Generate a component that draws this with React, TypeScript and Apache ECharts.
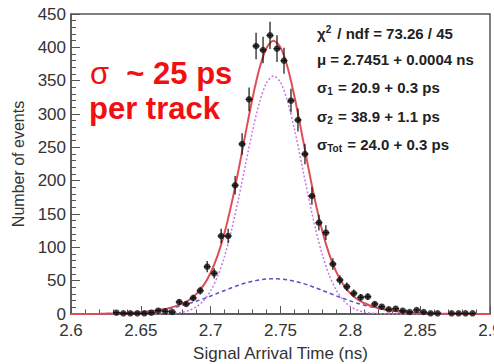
import React, { useEffect, useRef } from "react";
import * as echarts from "echarts";

// Histogram bins (ns) and counts
const binCenters = [
  2.6325, 2.6375, 2.6425, 2.6475, 2.6525, 2.6575, 2.6625, 2.6675, 2.6725, 2.6775,
  2.6825, 2.6875, 2.6925, 2.6975, 2.7025, 2.7075, 2.7125, 2.7175, 2.7225, 2.7275,
  2.7325, 2.7375, 2.7425, 2.7475, 2.7525, 2.7575, 2.7625, 2.7675, 2.7725, 2.7775,
  2.7825, 2.7875, 2.7925, 2.7975, 2.8025, 2.8075, 2.8125, 2.8175, 2.8225, 2.8275,
  2.8325, 2.8375, 2.8425, 2.8475, 2.8525, 2.8575, 2.8625, 2.8725, 2.8775, 2.8825,
  2.8875,
];
const counts = [
  2, 1, 1, 1, 1, 2, 5, 4, 3, 18,
  15, 24, 35, 71, 61, 117, 117, 193, 255, 322,
  402, 396, 418, 398, 380, 320, 291, 240, 177, 137,
  122, 75, 51, 41, 31, 25, 26, 15, 11, 7,
  8, 5, 3, 6, 3, 1, 1, 1, 1, 1,
  1,
];
const countErrors = [
  1.4, 1, 1, 1, 1, 1.4, 2.2, 2, 1.7, 4.2,
  3.9, 4.9, 5.9, 8.4, 7.8, 10.8, 10.8, 13.9, 16, 17.9,
  20, 19.9, 20.4, 20, 19.5, 17.9, 17.1, 15.5, 13.3, 11.7,
  11, 8.7, 7.1, 6.4, 5.6, 5, 5.1, 3.9, 3.3, 2.6,
  2.8, 2.2, 1.7, 2.4, 1.7, 1, 1, 1, 1, 1,
  1,
];
const binHalfWidth = 0.0025;

// Fit curves
const fitX = [
  2.6, 2.62, 2.64, 2.65, 2.66,
  2.665, 2.67, 2.675, 2.68, 2.685, 2.69, 2.695, 2.7, 2.705, 2.71,
  2.715, 2.72, 2.725, 2.73, 2.735, 2.74, 2.745, 2.75, 2.755, 2.76,
  2.765, 2.77, 2.775, 2.78, 2.785, 2.79, 2.795, 2.8, 2.805, 2.81,
  2.815, 2.82, 2.825, 2.83,
  2.84, 2.85, 2.86, 2.88, 2.9,
];
const fitTotal = [
  0, 0.3, 1.4, 2.7, 4.9,
  6.6, 8.8, 11.8, 15.9, 21.8, 30.5, 43.3, 61.9, 87.9, 122.4,
  165.9, 216.6, 271.3, 324.1, 368.9, 399.1, 410, 399.9, 370.5, 326.2,
  273.4, 218.8, 167.7, 123.9, 89, 62.7, 43.9, 30.9, 22.1, 16.1,
  11.9, 8.9, 6.65, 5.0,
  2.7, 1.4, 0.7, 0.1, 0,
];
const fitNarrow = [
  0, 0, 0, 0, 0.1,
  0.2, 0.6, 1.3, 2.8, 5.7, 11.1, 20.2, 34.8, 56.7, 87.1,
  126.6, 173.5, 224.9, 275, 317.7, 346.6, 357, 347.3, 319.2, 276.9,
  226.9, 175.6, 128.3, 88.5, 57.7, 35.5, 20.6, 11.3, 5.9, 2.9,
  1.3, 0.6, 0.25, 0.1,
  0, 0, 0, 0, 0,
];
const fitWide = [
  0, 0.3, 1.4, 2.7, 4.8,
  6.4, 8.2, 10.5, 13.1, 16.1, 19.4, 23.1, 27.1, 31.2, 35.3,
  39.3, 43.1, 46.4, 49.1, 51.2, 52.5, 53, 52.6, 51.3, 49.3,
  46.5, 43.2, 39.4, 35.4, 31.3, 27.2, 23.3, 19.6, 16.2, 13.2,
  10.6, 8.3, 6.4, 4.9,
  2.7, 1.4, 0.7, 0.1, 0,
];

const xTitle = "Signal Arrival Time (ns)";
const yTitle = "Number of events";
const statsLines = [
  "{t|χ}{sup|2}{t| / ndf = 73.26 / 45}",
  "{t|μ = 2.7451 + 0.0004 ns}",
  "{t|σ}{sub|1}{t| = 20.9 + 0.3 ps}",
  "{t|σ}{sub|2}{t| = 38.9 + 1.1 ps}",
  "{t|σ}{sub|Tot}{t| = 24.0 + 0.3 ps}",
];
const annotation1 = "{s|σ}{b|  ~ 25 ps}";
const annotation2 = "per track";

const FONT = "'Liberation Sans', Arial, Helvetica, sans-serif";

export default function App() {
  const ref = useRef<HTMLDivElement>(null);
  useEffect(() => {
    if (!ref.current) return;
    const chart = echarts.init(ref.current, undefined, { renderer: "svg" });
    const pair = (xs: number[], ys: number[]) => xs.map((x, i) => [x, ys[i]]);
    const statsY = [33, 61, 89, 118, 146];
    const option: any = {
      animation: false,
      backgroundColor: "#ffffff",
      grid: {
        left: 71,
        top: 14,
        width: 419,
        height: 300,
        show: true,
        borderColor: "#555",
        borderWidth: 1.5,
        backgroundColor: "transparent",
        containLabel: false,
        outerBoundsMode: "none",
      },
      xAxis: {
        type: "value",
        min: 2.6,
        max: 2.9,
        interval: 0.05,
        name: xTitle,
        nameLocation: "middle",
        nameGap: 31,
        nameTextStyle: { fontFamily: FONT, fontSize: 17, color: "#333" },
        axisLine: { show: true, lineStyle: { color: "#555", width: 1.5 } },
        axisTick: { show: true, inside: true, length: 8, lineStyle: { color: "#555" } },
        minorTick: { show: true, splitNumber: 5, length: 4.5, lineStyle: { color: "#555" } },
        splitLine: { show: false },
        axisLabel: {
          fontFamily: FONT,
          fontSize: 17,
          color: "#333",
          margin: 8,
          showMaxLabel: true,
          alignMaxLabel: "center",
          hideOverlap: false,
          formatter: (v: number) => String(+v.toFixed(2)),
        },
      },
      yAxis: {
        type: "value",
        min: 0,
        max: 450,
        interval: 50,
        name: yTitle,
        nameLocation: "middle",
        nameGap: 32,
        nameRotate: 90,
        nameTextStyle: { fontFamily: FONT, fontSize: 16, color: "#333" },
        axisLine: { show: true, lineStyle: { color: "#555", width: 1.5 } },
        axisTick: { show: true, inside: true, length: 9, lineStyle: { color: "#555" } },
        minorTick: { show: true, splitNumber: 5, length: 5, lineStyle: { color: "#555" } },
        splitLine: { show: false },
        axisLabel: { fontFamily: FONT, fontSize: 17, color: "#333", margin: 5 },
      },
      series: [
        {
          type: "line",
          data: pair(fitX, fitWide),
          showSymbol: false,
          smooth: 0.3,
          lineStyle: { color: "#5b52c8", width: 1.5, type: [4, 3] },
          z: 2,
        },
        {
          type: "line",
          data: pair(fitX, fitNarrow),
          showSymbol: false,
          smooth: 0.3,
          lineStyle: { color: "#c777e6", width: 1.5, type: [2, 2] },
          z: 2,
        },
        {
          type: "line",
          data: pair(fitX, fitTotal),
          showSymbol: false,
          smooth: 0.3,
          lineStyle: { color: "#e04e55", width: 2 },
          z: 3,
        },
        {
          type: "custom",
          data: binCenters.map((x, i) => [x, counts[i], countErrors[i]]),
          encode: { x: 0, y: 1 },
          z: 4,
          renderItem: (params: any, api: any) => {
            const x = api.value(0);
            const y = api.value(1);
            const e = api.value(2);
            const c = api.coord([x, y]);
            const top = api.coord([x, y + e]);
            const bot = api.coord([x, Math.max(0, y - e)]);
            const l = api.coord([x - binHalfWidth, y]);
            const r = api.coord([x + binHalfWidth, y]);
            const st = { stroke: "#111", lineWidth: 1.2 };
            return {
              type: "group",
              children: [
                { type: "line", shape: { x1: c[0], y1: top[1], x2: c[0], y2: bot[1] }, style: st },
                { type: "line", shape: { x1: l[0], y1: c[1], x2: r[0], y2: c[1] }, style: st },
              ],
            };
          },
        },
        {
          type: "scatter",
          data: pair(binCenters, counts),
          symbol: "circle",
          symbolSize: 6.5,
          itemStyle: { color: "#111" },
          z: 5,
        },
      ],
      graphic: [
        ...statsLines.map((t, i) => ({
          type: "text",
          left: 317,
          top: statsY[i] - 9,
          z: 10,
          style: {
            text: t,
            fill: "#222",
            rich: {
              t: { fontFamily: FONT, fontSize: 15, fill: "#222", fontWeight: "bold", lineHeight: 18 },
              sup: { fontFamily: FONT, fontSize: 10, fill: "#222", fontWeight: "bold", verticalAlign: "top", lineHeight: 18, padding: [0, 2, 8, 0] },
              sub: { fontFamily: FONT, fontSize: 10, fill: "#222", fontWeight: "bold", verticalAlign: "bottom", lineHeight: 18, padding: [6, 1, 0, 0] },
            },
          },
        })),
        {
          type: "text",
          left: 90,
          top: 58,
          z: 10,
          style: {
            text: annotation1,
            rich: {
              s: { fontFamily: FONT, fontSize: 31, fill: "#f01010", lineHeight: 34 },
              b: { fontFamily: FONT, fontSize: 31, fill: "#f01010", fontWeight: "bold", lineHeight: 34 },
            },
          },
        },
        {
          type: "text",
          left: 89,
          top: 93,
          z: 10,
          style: {
            text: annotation2,
            fontFamily: FONT,
            fontSize: 31,
            fontWeight: "bold",
            fill: "#f01010",
          },
        },
      ],
    };
    chart.setOption(option);
    return () => chart.dispose();
  }, []);
  return (
    <div
      ref={ref}
      style={{ position: "fixed", left: 0, top: 0, width: 494, height: 364, background: "#fff" }}
    />
  );
}
